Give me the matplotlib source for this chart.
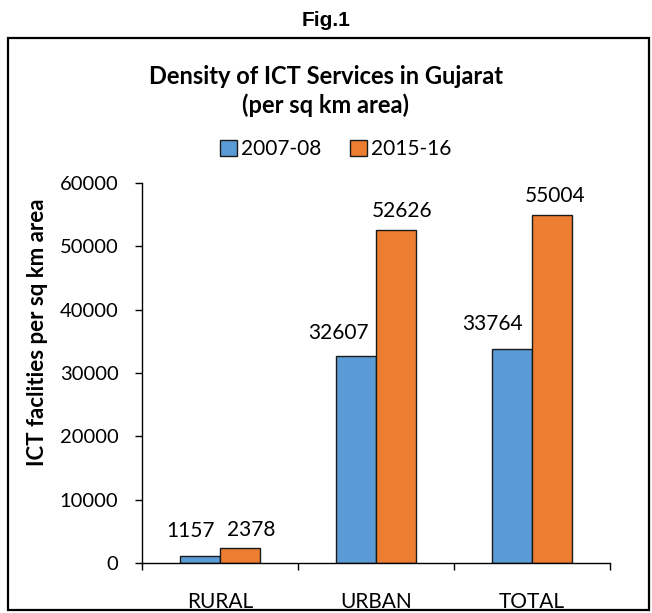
import numpy as np
import matplotlib.pyplot as plt
from matplotlib.patches import Rectangle, Patch

# data
categories = ['RURAL', 'URBAN', 'TOTAL']
series_names = ['2007-08', '2015-16']
vals_0708 = [1157, 32607, 33764]
vals_1516 = [2378, 52626, 55004]

# label nudges (pixels, relative to top-centre of each bar)
nudge_0708 = [(-10, 25), (-18, 23), (-20, 25)]
nudge_1516 = [(11, 18), (6, 19), (3, 19)]

blue = '#5B9BD5'
orange = '#ED7D31'
body_font = 'Lato'

W, H = 652, 613
fig = plt.figure(figsize=(W / 100, H / 100), dpi=100)

ax = fig.add_axes([142 / W, 1 - 563 / H, (610 - 142) / W, (563 - 183) / H])

x = np.arange(len(categories))
bw = 0.255
b1 = ax.bar(x - bw / 2, vals_0708, bw, color=blue, edgecolor='#1a1a1a', linewidth=1.0)
b2 = ax.bar(x + bw / 2, vals_1516, bw, color=orange, edgecolor='#1a1a1a', linewidth=1.0)

for bars, vals, nud in [(b1, vals_0708, nudge_0708), (b2, vals_1516, nudge_1516)]:
    for r, v, (dx, dy) in zip(bars, vals, nud):
        ax.annotate(str(v), (r.get_x() + r.get_width() / 2, r.get_height()),
                    xytext=(dx, dy), textcoords='offset pixels',
                    ha='center', va='center', fontsize=15, family=body_font)

ax.set_xlim(-0.5, len(categories) - 0.5)
ax.set_ylim(0, 60000)
ax.set_yticks(np.arange(0, 60001, 10000))
ax.tick_params(axis='y', direction='out', length=5, width=1, pad=12, labelsize=14.5)
for t in ax.get_yticklabels():
    t.set_family(body_font)

# category boundaries as ticks, names centred
ax.set_xticks(np.arange(-0.5, len(categories), 1.0))
ax.set_xticklabels([])
ax.tick_params(axis='x', which='major', direction='out', length=5, width=1)
ax.set_xticks(x, minor=True)
ax.set_xticklabels(categories, minor=True, family=body_font, fontsize=15)
ax.tick_params(axis='x', which='minor', length=0, pad=21)

for s in ['top', 'right']:
    ax.spines[s].set_visible(False)
ax.spines['left'].set_linewidth(1)
ax.spines['bottom'].set_linewidth(1)

fig.text(38 / W, 1 - 332 / H, 'ICT faclities per sq km area', rotation=90,
         ha='center', va='center', fontsize=16, fontweight='bold', family=body_font)

fig.text(0.5, 1 - 20 / H, 'Fig.1', ha='center', va='center', fontsize=15,
         fontweight='bold', family='Liberation Sans')
fig.text(0.5, 1 - 91 / H, 'Density of ICT Services in Gujarat\n(per sq km area)',
         ha='center', va='center', fontsize=17, fontweight='bold', family=body_font,
         linespacing=1.3)

handles = [Patch(facecolor=blue, edgecolor='#1a1a1a', linewidth=1),
           Patch(facecolor=orange, edgecolor='#1a1a1a', linewidth=1)]
fig.legend(handles, series_names, loc='center', bbox_to_anchor=(0.515, 1 - 149 / H),
           ncol=2, frameon=False, prop={'family': body_font, 'size': 15},
           handlelength=0.8, handleheight=0.8, handletextpad=0.2, columnspacing=1.4)

# outer border
fig.patches.append(Rectangle((8 / W, 3 / H), (649 - 8) / W, (575 - 3) / H,
                             transform=fig.transFigure, fill=False,
                             edgecolor='black', linewidth=1.6))

fig.savefig('out.png', dpi=100)
